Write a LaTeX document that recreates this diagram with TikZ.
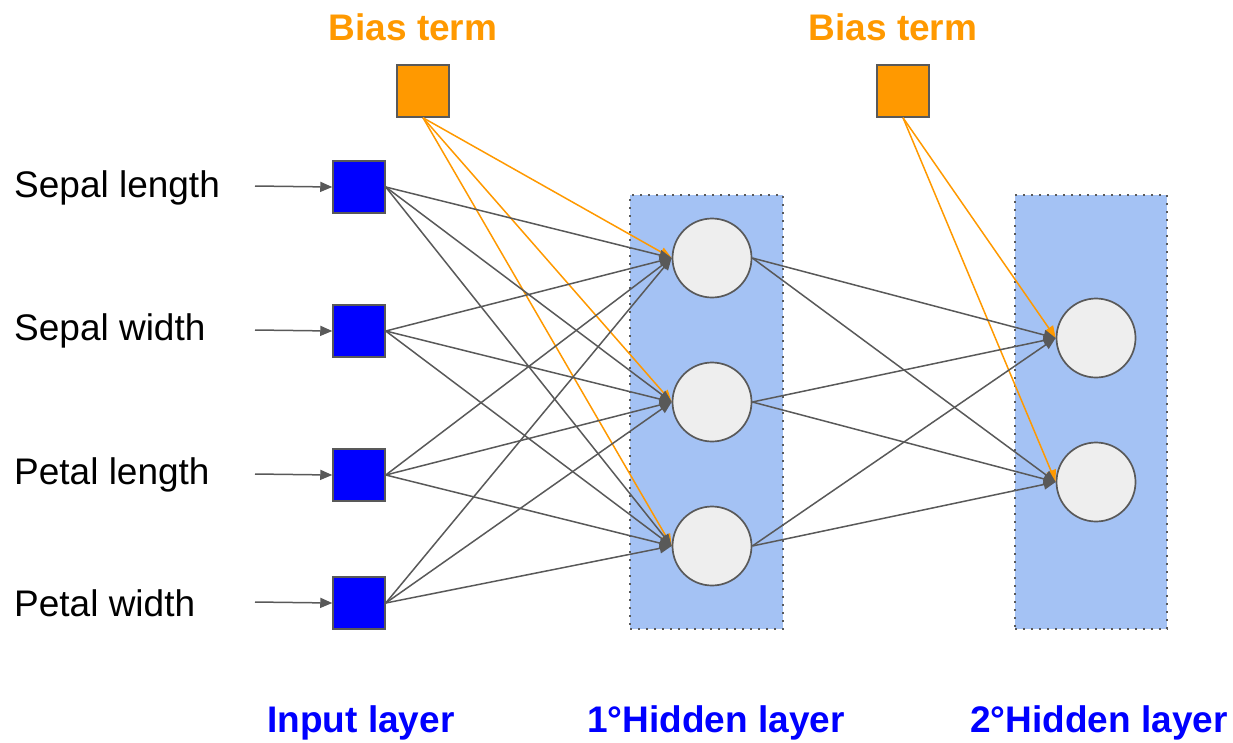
\documentclass[tikz,border=0pt]{standalone}
\usepackage{fontspec}
\setmainfont{Liberation Sans}
\usetikzlibrary{arrows.meta}
\definecolor{edgegray}{HTML}{595959}
\definecolor{inblue}{HTML}{0000FF}
\definecolor{biasorange}{HTML}{FF9900}
\definecolor{layerblue}{HTML}{A4C2F4}
\definecolor{nodegray}{HTML}{EEEEEE}
\tikzset{
  insq/.style={draw=edgegray, line width=1.5pt, fill=inblue, minimum size=52pt, inner sep=0pt},
  biassq/.style={draw=edgegray, line width=1.5pt, fill=biasorange, minimum size=52pt, inner sep=0pt},
  neuron/.style={circle, draw=edgegray, line width=1.7pt, fill=nodegray, minimum size=79pt, inner sep=0pt},
  layerbox/.style={draw=edgegray, line width=2pt, dash pattern=on 2pt off 6pt, fill=layerblue},
  featlabel/.style={anchor=west, inner sep=0pt, font=\fontsize{37}{43}\selectfont},
  biaslabel/.style={inner sep=0pt, text=biasorange, font=\fontsize{37}{43}\selectfont\bfseries},
  layerlabel/.style={inner sep=0pt, text=inblue, font=\fontsize{37}{43}\selectfont\bfseries},
  conn/.style={draw=edgegray, line width=1.5pt, -{Triangle[length=12pt,width=10pt]}},
  biasconn/.style={draw=biasorange, line width=1.5pt, -{Triangle[length=12pt,width=10pt]}},
}
\begin{document}
\begin{tikzpicture}[x=1pt,y=-1pt]
\useasboundingbox (0,0) rectangle (1233,742);
% layer boxes
\node[layerbox, minimum width=153pt, minimum height=434pt, inner sep=0pt] (box1) at (706.5,412) {};
\node[layerbox, minimum width=152pt, minimum height=434pt, inner sep=0pt] (box2) at (1091,412) {};
% input squares
\node[insq] (i1) at (359,187) {};
\node[insq] (i2) at (359,331) {};
\node[insq] (i3) at (359,475) {};
\node[insq] (i4) at (359,603) {};
% bias squares
\node[biassq] (b1) at (423,91) {};
\node[biassq] (b2) at (903,91) {};
% hidden neurons
\node[neuron] (h1) at (712,258) {};
\node[neuron] (h2) at (712,402) {};
\node[neuron] (h3) at (712,546) {};
\node[neuron] (o1) at (1096,338) {};
\node[neuron] (o2) at (1096,482) {};
% labels
\node[featlabel] (l1) at (14,188) {Sepal length};
\node[featlabel] (l2) at (14,331) {Sepal width};
\node[featlabel] (l3) at (14,475) {Petal length};
\node[featlabel] (l4) at (14,603) {Petal width};
\node[biaslabel] (bt1) at (413,27) {Bias term};
\node[biaslabel] (bt2) at (893,27) {Bias term};
\node[layerlabel] (ll1) at (361,723) {Input layer};
\node[layerlabel] (ll2) at (716,723) {1°Hidden layer};
\node[layerlabel] (ll3) at (1099,723) {2°Hidden layer};
% input arrows
\coordinate (s1) at (255,186);
\coordinate (s2) at (255,330);
\coordinate (s3) at (255,474);
\coordinate (s4) at (255,602);
\foreach \k in {1,2,3,4} { \draw[conn] (s\k) -- (i\k.west); }
% bias connections
\foreach \h in {h1,h2,h3} { \draw[biasconn] (b1.south) -- (\h.west); }
\foreach \h in {o1,o2} { \draw[biasconn] (b2.south) -- (\h.west); }
% input to hidden
\foreach \i in {i1,i2,i3,i4} {
  \foreach \h in {h1,h2,h3} { \draw[conn] (\i.east) -- (\h.west); }
}
% hidden to hidden
\foreach \h in {h1,h2,h3} {
  \foreach \o in {o1,o2} { \draw[conn] (\h.east) -- (\o.west); }
}
\end{tikzpicture}
\end{document}
